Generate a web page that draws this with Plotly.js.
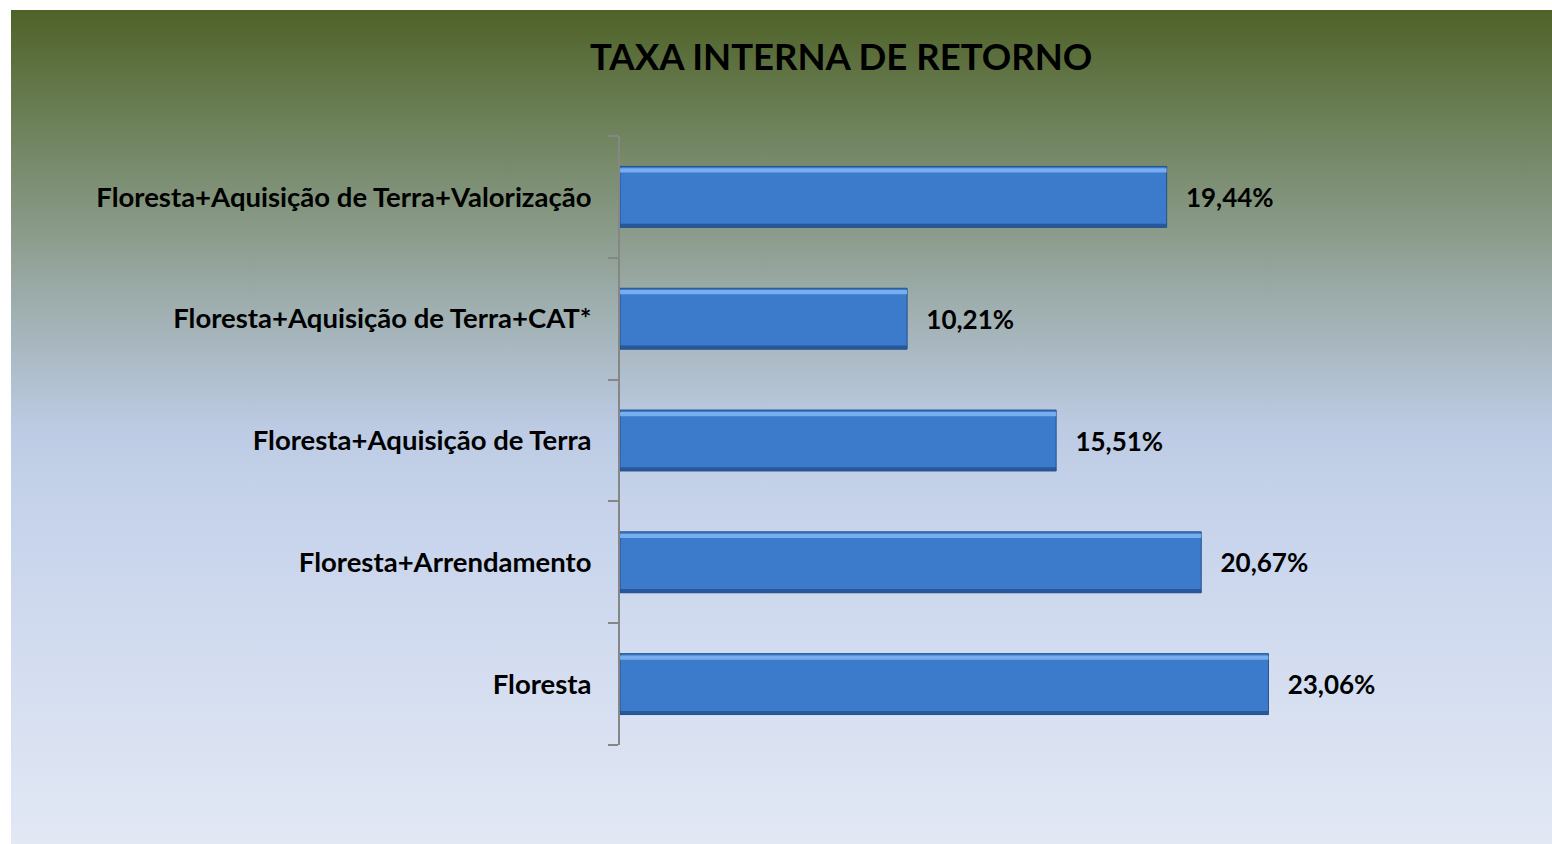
<!DOCTYPE html>
<html>
<head>
<meta charset="utf-8">
<script src="https://cdn.plot.ly/plotly-3.0.1.min.js"></script>
<style>
  html, body { margin: 0; padding: 0; background: #ffffff; }
  #bg {
    position: absolute; left: 11px; top: 10px; width: 1541px; height: 834px;
    background: linear-gradient(to bottom,
      #4f6228 0%, #677b50 11%, #849680 24%, #a0afb0 36%, #bccbe3 50%,
      #c6d3eb 60%, #d1dbef 75%, #e2e8f4 100%);
  }
  #chart { position: absolute; left: 0; top: 0; width: 1552px; height: 844px; }
</style>
</head>
<body>
<div id="bg"></div>
<div id="chart"></div>
<script>
// Categories listed bottom to top (Plotly draws the first category at the bottom)
var categories = [
  "Floresta",
  "Floresta+Arrendamento",
  "Floresta+Aquisição de Terra",
  "Floresta+Aquisição de Terra+CAT*",
  "Floresta+Aquisição de Terra+Valorização"
];
var tirValues = [23.06, 20.67, 15.51, 10.21, 19.44];
var chartTitle = "TAXA INTERNA DE RETORNO";

var FONT = "Lato, 'Open Sans', 'DejaVu Sans', sans-serif";

var mainBars = {
  type: "bar",
  orientation: "h",
  x: tirValues,
  y: categories,
  width: 0.5,
  marker: { color: "#3c7acb", line: { color: "#24508c", width: 1 } },
  texttemplate: "\u2002\u2009%{x:.2f}%",
  textposition: "outside",
  constraintext: "none",
  cliponaxis: false,
  textfont: { family: FONT, size: 26, color: "#000000", weight: 700 },
  hoverinfo: "skip"
};
// top bevel highlight
var highlight = {
  type: "bar",
  orientation: "h",
  x: tirValues,
  y: categories,
  width: 0.035,
  offset: 0.2,
  marker: { color: "rgba(140,192,248,0.75)", line: { width: 0 } },
  hoverinfo: "skip"
};
// bottom bevel shade
var shade = {
  type: "bar",
  orientation: "h",
  x: tirValues,
  y: categories,
  width: 0.03,
  offset: -0.25,
  marker: { color: "rgba(35,80,140,0.8)", line: { width: 0 } },
  hoverinfo: "skip"
};

var layout = {
  width: 1552,
  height: 844,
  paper_bgcolor: "rgba(0,0,0,0)",
  plot_bgcolor: "rgba(0,0,0,0)",
  margin: { l: 620, r: 229, t: 136, b: 99 },
  showlegend: false,
  barmode: "overlay",
  separators: ",.",
  title: {
    text: chartTitle,
    x: 0.542, xanchor: "center",
    y: 0.932, yanchor: "middle",
    font: { family: FONT, size: 36.5, color: "#000000", weight: 700 }
  },
  xaxis: {
    range: [0, 25],
    visible: false,
    showgrid: false,
    zeroline: false,
    fixedrange: true
  },
  yaxis: {
    type: "category",
    showline: true,
    linecolor: "#868686",
    linewidth: 2,
    ticks: "outside",
    tickson: "boundaries",
    ticklen: 10,
    tickwidth: 2,
    tickcolor: "#868686",
    ticklabelstandoff: 21,
    showgrid: false,
    zeroline: false,
    tickfont: { family: FONT, size: 27.5, color: "#000000", weight: 700 },
    fixedrange: true
  },
  hovermode: false
};

Plotly.newPlot("chart", [mainBars, highlight, shade], layout, { displayModeBar: false, staticPlot: true });
</script>
</body>
</html>
